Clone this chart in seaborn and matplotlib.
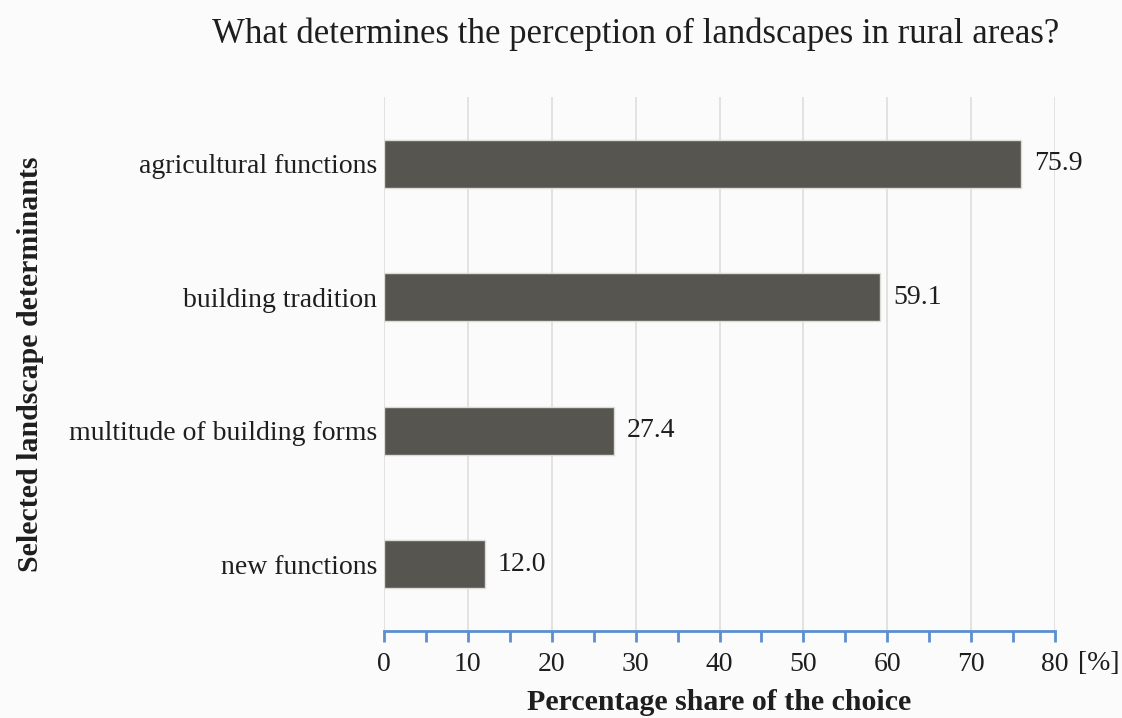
import numpy as np
import pandas as pd
import matplotlib
matplotlib.use("Agg")
import matplotlib.pyplot as plt
import seaborn as sns
from matplotlib.ticker import MultipleLocator

categories = ["agricultural functions", "building tradition",
              "multitude of building forms", "new functions"]
shares = [75.9, 59.1, 27.4, 12.0]

df = pd.DataFrame({"determinant": categories, "share": shares})

sns.set_style("white")
plt.rcParams["font.family"] = ["Liberation Serif", "DejaVu Serif"]

fig = plt.figure(figsize=(11.22, 7.18), dpi=100, facecolor="#fbfbfb")
ax = fig.add_axes([384 / 1122, 1 - 631 / 718, 671 / 1122, 534 / 718])
ax.set_facecolor("#fbfbfb")

sns.barplot(data=df, x="share", y="determinant", color="#56554f",
            width=0.36, saturation=1, edgecolor="#dddbd6", linewidth=1.0, ax=ax)

for i, v in enumerate(shares):
    ax.text(v + 1.6, i, f"{v:.1f}", va="center", ha="left", fontsize=20, color="#1e1e1e")

ax.set_xlim(0, 80)
ax.set_ylim(3.5, -0.5)
ax.xaxis.set_major_locator(MultipleLocator(10))
ax.xaxis.set_minor_locator(MultipleLocator(5))
ax.grid(axis="x", which="major", color="#e0e0dc", linewidth=1.3)
ax.set_axisbelow(True)

for s in ["top", "right", "left"]:
    ax.spines[s].set_visible(False)
ax.spines["bottom"].set_color("#5b8fd0")
ax.spines["bottom"].set_linewidth(2)
ax.tick_params(axis="x", which="both", bottom=True, direction="out", length=8, width=2,
               color="#5b8fd0", labelsize=20, labelcolor="#1e1e1e", pad=7)
ax.tick_params(axis="y", length=0, labelsize=20, labelcolor="#1e1e1e", pad=5)

ax.set_xlabel("Percentage share of the choice", fontsize=21.5, fontweight="bold",
              color="#1e1e1e")
ax.xaxis.set_label_coords(0.5, -(689 - 631) / 534)
ax.set_ylabel("Selected landscape determinants", fontsize=21.5, fontweight="bold",
              color="#1e1e1e")
ax.yaxis.set_label_coords(-(384 - 44) / 671, 0.5)

fig.text(1078 / 1122, 1 - 664 / 718, "[%]", fontsize=20, color="#1e1e1e",
         ha="left", va="center")
fig.suptitle("What determines the perception of landscapes in rural areas?",
             x=636 / 1122, y=1 - 34 / 718, va="center", fontsize=25, color="#1e1e1e")

fig.savefig("out.png", dpi=100, facecolor=fig.get_facecolor())
